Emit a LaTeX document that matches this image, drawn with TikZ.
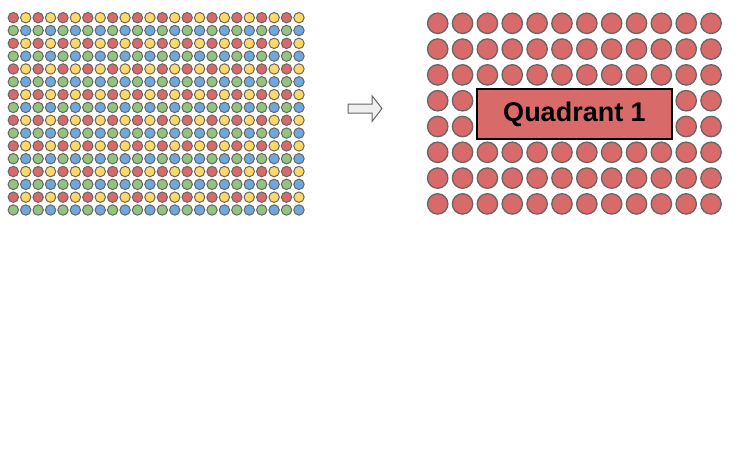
\documentclass[tikz,border=0pt]{standalone}
\usepackage{fontspec}
\setmainfont{Liberation Sans}
\definecolor{cred}{RGB}{216,106,106}
\definecolor{cyel}{RGB}{255,217,102}
\definecolor{cgrn}{RGB}{147,196,125}
\definecolor{cblu}{RGB}{111,168,220}
\definecolor{cbord}{RGB}{102,102,102}
\definecolor{carrow}{RGB}{239,239,239}
\tikzset{
  smalldot/.style={circle, draw=cbord, line width=1pt, minimum size=10.4pt, inner sep=0pt},
  bigdot/.style={circle, draw=cbord, fill=cred, line width=1.3pt, minimum size=20.4pt, inner sep=0pt},
  quadbox/.style={draw=black, fill=cred, line width=1.2pt, minimum width=195pt, minimum height=50pt, inner sep=0pt, font=\bfseries\fontsize{27}{30}\selectfont},
  blockarrow/.style={draw=cbord, fill=carrow, line width=1pt, line join=miter}
}
\begin{document}
\begin{tikzpicture}[x=1pt,y=-1pt]
\useasboundingbox (0,0) rectangle (735,474);
% left grid
\foreach \r in {0,...,15}{
  \foreach \c in {0,...,23}{
    \pgfmathtruncatemacro{\rr}{mod(\r,2)}
    \pgfmathtruncatemacro{\cc}{mod(\c,2)}
    \ifnum\rr=0
      \ifnum\cc=0 \def\col{cred}\else\def\col{cyel}\fi
    \else
      \ifnum\cc=0 \def\col{cgrn}\else\def\col{cblu}\fi
    \fi
    \node[smalldot, fill=\col] (s-\r-\c) at ({13.3+12.42*\c},{17.7+12.82*\r}) {};
  }
}
% arrow
\draw[blockarrow] (348,104) -- (372,104) -- (372,95.7) -- (382,108.5) -- (372,121.5) -- (372,113) -- (348,113) -- cycle;
% right grid
\foreach \r in {0,...,7}{
  \foreach \c in {0,...,11}{
    \pgfmathtruncatemacro{\skip}{(\r==3 || \r==4) && \c>=2 && \c<=9 ? 1 : 0}
    \ifnum\skip=0
      \node[bigdot] (b-\r-\c) at ({437.7+24.85*\c},{23.3+25.8*\r}) {};
    \fi
  }
}
\node[quadbox] (quad) at (574.5,114) {Quadrant 1};
\end{tikzpicture}
\end{document}
